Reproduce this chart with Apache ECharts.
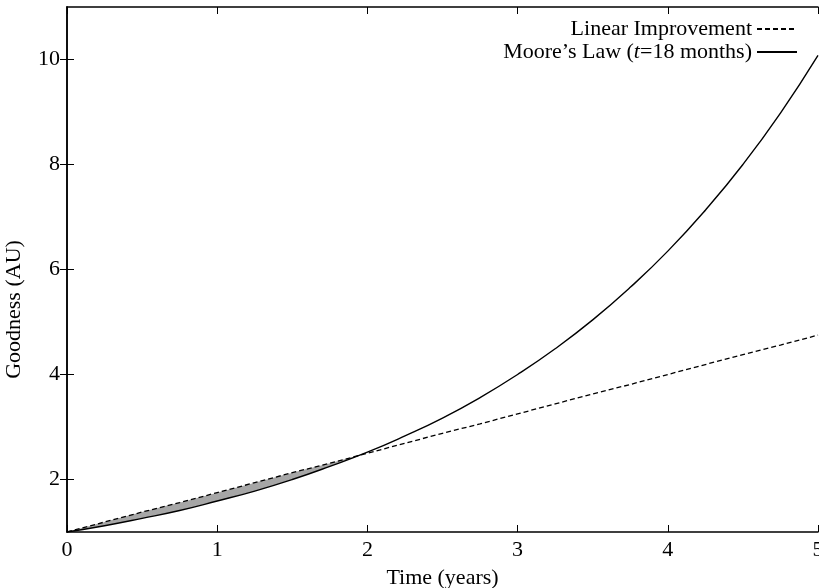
<!DOCTYPE html>
<html><head><meta charset="utf-8">
<script src="https://cdn.jsdelivr.net/npm/echarts@6/dist/echarts.min.js"></script>
<style>html,body{margin:0;padding:0;background:#fff}#c{width:819px;height:588px}</style>
</head><body><div id="c"></div>
<script>
const years = [0,0.25,0.5,0.75,1,1.25,1.5,1.75,2,2.25,2.5,2.75,3,3.25,3.5,3.75,4,4.25,4.5,4.75,5];
const moore = [1,1.12,1.26,1.41,1.59,1.78,2.0,2.25,2.52,2.83,3.17,3.56,4.0,4.49,5.04,5.66,6.35,7.13,8.0,8.98,10.08];
const linear = [1,1.19,1.38,1.56,1.75,1.94,2.13,2.31,2.5,2.69,2.88,3.06,3.25,3.44,3.63,3.81,4.0,4.19,4.38,4.56,4.75];
const shadeEnd = 1.94;
const yTicks = [2,4,6,8,10];
const names = ['Linear Improvement', 'Moore\u2019s Law (t=18 months)'];

const FONT = 'Liberation Serif';
const FS = 22;
const pair = (xs, ys) => xs.map((x,i)=>[x, ys[i]]);
const shadeIdx = years.map((x,i)=>i).filter(i=>years[i] < 2);

const axisCommon = {
  axisLine:{show:true, lineStyle:{color:'#000', width:1.5}},
  axisTick:{show:true, inside:true, length:7, lineStyle:{color:'#000', width:1}},
  splitLine:{show:false}
};
const chart = echarts.init(document.getElementById('c'), null, {renderer:'canvas'});
chart.setOption({
  animation:false,
  grid:{left:67, right:1, top:7, bottom:56, containLabel:false, outerBoundsMode:'none'},
  xAxis:[
    Object.assign({type:'value', min:0, max:5, interval:1, position:'bottom',
      name:'Time (years)', nameLocation:'middle', nameGap:35,
      nameTextStyle:{fontFamily:FONT, fontSize:FS, color:'#000'},
      axisLabel:{show:true, margin:7, fontFamily:FONT, fontSize:FS, color:'#000', showMaxLabel:true}}, axisCommon),
    Object.assign({type:'value', min:0, max:5, interval:1, position:'top', axisLabel:{show:false}}, axisCommon)
  ],
  yAxis:[
    Object.assign({type:'value', min:1, max:11, position:'left',
      name:'Goodness (AU)', nameLocation:'middle', nameGap:42, nameRotate:90,
      nameTextStyle:{fontFamily:FONT, fontSize:FS, color:'#000', padding:[0,80,0,0]},
      axisLabel:{show:true, margin:7, fontFamily:FONT, fontSize:FS, color:'#000', customValues:yTicks}},
      axisCommon, {axisTick:{show:true, inside:true, length:7, lineStyle:{color:'#000', width:1}, customValues:yTicks}}),
    Object.assign({type:'value', min:1, max:11, position:'right', axisLabel:{show:false}},
      axisCommon, {axisTick:{show:true, inside:true, length:7, lineStyle:{color:'#000', width:1}, customValues:yTicks}})
  ],
  legend:{
    orient:'vertical', right:16, top:13, align:'right', itemWidth:40, itemHeight:10, itemGap:1,
    data:names, itemStyle:{opacity:0},
    formatter: n => n === names[1] ? 'Moore\u2019s Law ({i|t}=18 months)' : n,
    textStyle:{fontFamily:FONT, fontSize:FS, color:'#000',
      rich:{i:{fontFamily:FONT, fontSize:FS, fontStyle:'italic', color:'#000'}}}
  },
  series:[
    {name:'shade', type:'custom', silent:true, z:1, data:[0],
     renderItem:(params, api) => {
       const top = shadeIdx.map(i => api.coord([years[i], linear[i]]));
       top.push(api.coord([shadeEnd, linear[shadeIdx.length-1] + 0.75*(shadeEnd-years[shadeIdx.length-1])]));
       const bot = shadeIdx.map(i => api.coord([years[i], moore[i]])).reverse();
       return {type:'polygon', shape:{points: top.concat(bot), smooth:0.2},
               style:{fill:'#a6a6a6', stroke:null}};
     }},
    {name:names[0], type:'line', data:pair(years, linear), symbol:'none',
     lineStyle:{color:'#000', width:1.3, type:[5,3]}, itemStyle:{color:'#000'}, z:3},
    {name:names[1], type:'line', data:pair(years, moore), symbol:'none', smooth:true,
     lineStyle:{color:'#000', width:1.4}, itemStyle:{color:'#000'}, z:3}
  ]
});
</script></body></html>
